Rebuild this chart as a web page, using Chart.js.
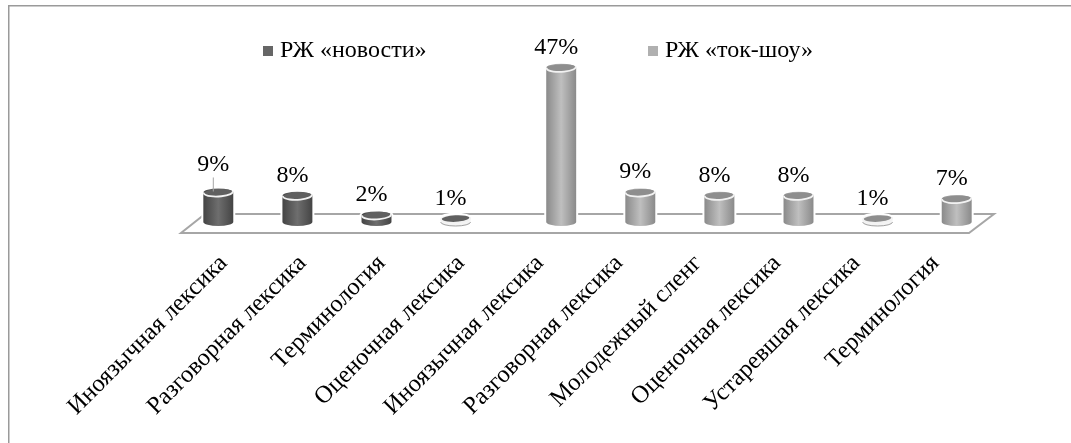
<!DOCTYPE html>
<html>
<head>
<meta charset="utf-8">
<style>
html, body { margin: 0; padding: 0; background: #fff; }
#wrap { width: 1071px; height: 443px; }
</style>
<script src="https://cdn.jsdelivr.net/npm/chart.js@4"></script>
</head>
<body>
<div id="wrap"><canvas id="grafico"></canvas></div>
<script>
var categorias = ['Иноязычная лексика', 'Разговорная лексика', 'Терминология', 'Оценочная лексика',
    'Иноязычная лексика', 'Разговорная лексика', 'Молодежный сленг', 'Оценочная лексика',
    'Устаревшая лексика', 'Терминология'];
var novosti = [9, 8, 2, 1, null, null, null, null, null, null];
var tokShou = [null, null, null, null, 47, 9, 8, 8, 1, 7];
var nomeNovosti = 'РЖ «новости»';
var nomeTokShou = 'РЖ «ток-шоу»';

var fonte = '"Liberation Serif", "Times New Roman", serif';
var escuro = { meio: '#6e6e6e', borda: '#444444', topo: '#606060', legenda: '#666666' };
var claro = { meio: '#bfbfbf', borda: '#8a8a8a', topo: '#8e8e8e', legenda: '#b0b0b0' };

function desenhaCilindro(ctx, b, cor) {
    var rx = b.width / 2, ry = 4;
    var esq = b.x - rx, dir = b.x + rx;
    var baixo = b.base - b.y < 5;
    function corpo() {
        ctx.beginPath();
        ctx.moveTo(esq, b.y);
        ctx.lineTo(esq, b.base);
        ctx.ellipse(b.x, b.base, rx, ry, 0, Math.PI, 0, true);
        ctx.lineTo(dir, b.y);
        ctx.ellipse(b.x, b.y, rx, ry, 0, 0, Math.PI, true);
        ctx.closePath();
    }
    // halo branco que corta a linha do piso
    corpo();
    ctx.lineWidth = 4;
    ctx.strokeStyle = '#fff';
    ctx.stroke();
    var grad = ctx.createLinearGradient(esq, 0, dir, 0);
    grad.addColorStop(0, cor.borda);
    grad.addColorStop(0.5, cor.meio);
    grad.addColorStop(1, cor.borda);
    corpo();
    // barra de 1%: so um disco com crescente claro embaixo
    ctx.fillStyle = baixo ? '#f4f4f4' : grad;
    ctx.fill();
    if (baixo) {
        ctx.lineWidth = 0.8;
        ctx.strokeStyle = '#8a8a8a';
        ctx.beginPath();
        ctx.ellipse(b.x, b.base, rx, ry, 0, 0, Math.PI);
        ctx.stroke();
    }
    ctx.beginPath();
    ctx.ellipse(b.x, b.y, rx - 1, ry - 0.5, -0.05, 0, Math.PI * 2);
    ctx.fillStyle = cor.topo;
    ctx.fill();
    ctx.beginPath();
    ctx.ellipse(b.x, b.y, rx - 0.5, ry, -0.05, -0.2, Math.PI + 0.2);
    ctx.lineWidth = 1.8;
    ctx.strokeStyle = '#f2f2f2';
    ctx.stroke();
}

var cilindros = {
    id: 'cilindros',
    beforeDraw: function (chart) {
        var ctx = chart.ctx;
        ctx.save();
        ctx.fillStyle = '#fff';
        ctx.fillRect(0, 0, chart.width, chart.height);
        // moldura: so topo e lado esquerdo aparecem
        ctx.strokeStyle = '#9a9a9a';
        ctx.lineWidth = 1.5;
        ctx.beginPath();
        ctx.moveTo(8.75, chart.height);
        ctx.lineTo(8.75, 5.75);
        ctx.lineTo(chart.width, 5.75);
        ctx.stroke();
        ctx.restore();
    },
    beforeDatasetsDraw: function (chart) {
        // piso em perspectiva
        var ctx = chart.ctx, a = chart.chartArea, base = a.bottom;
        ctx.save();
        ctx.beginPath();
        ctx.moveTo(a.left + 13, base - 8);
        ctx.lineTo(a.right + 11, base - 8);
        ctx.lineTo(a.right - 14, base + 11);
        ctx.lineTo(a.left - 11, base + 11);
        ctx.closePath();
        ctx.lineWidth = 2;
        ctx.strokeStyle = '#a6a6a6';
        ctx.stroke();
        ctx.restore();
    },
    afterDatasetsDraw: function (chart) {
        var ctx = chart.ctx;
        ctx.save();
        [escuro, claro].forEach(function (cor, i) {
            chart.getDatasetMeta(i).data.forEach(function (b, k) {
                var v = chart.data.datasets[i].data[k];
                if (v === null) return;
                desenhaCilindro(ctx, b, cor);
            });
        });
        // linha de chamada do primeiro rotulo
        var p = chart.getDatasetMeta(0).data[0];
        ctx.beginPath();
        ctx.moveTo(p.x - 5, p.y - 15);
        ctx.lineTo(p.x - 5, p.y - 1);
        ctx.lineWidth = 1;
        ctx.strokeStyle = '#a6a6a6';
        ctx.stroke();
        // rotulos
        ctx.font = '24px ' + fonte;
        ctx.fillStyle = '#000';
        ctx.textAlign = 'center';
        ctx.textBaseline = 'alphabetic';
        [0, 1].forEach(function (i) {
            chart.getDatasetMeta(i).data.forEach(function (b, k) {
                var v = chart.data.datasets[i].data[k];
                if (v === null) return;
                var subida = (i === 0 && k === 0) ? 21 : 14;
                ctx.fillText(v + '%', b.x - 5, b.y - subida);
            });
        });
        // legenda
        ctx.textAlign = 'left';
        ctx.textBaseline = 'middle';
        ctx.fillStyle = escuro.legenda;
        ctx.fillRect(263, 46, 10, 10);
        ctx.fillStyle = claro.legenda;
        ctx.fillRect(648, 46, 10, 10);
        ctx.fillStyle = '#000';
        ctx.fillText(nomeNovosti, 280, 51);
        ctx.fillText(nomeTokShou, 665, 51);
        ctx.restore();
    }
};

var grafico = new Chart(document.getElementById('grafico').getContext('2d'), {
    type: 'bar',
    plugins: [cilindros],
    data: {
        labels: categorias,
        datasets: [
            { label: nomeNovosti, data: novosti, backgroundColor: escuro.legenda, barPercentage: 1.13, categoryPercentage: 0.67 },
            { label: nomeTokShou, data: tokShou, backgroundColor: claro.legenda, barPercentage: 1.13, categoryPercentage: 0.67 }
        ]
    },
    options: {
        responsive: true,
        maintainAspectRatio: false,
        animation: false,
        layout: { padding: { left: 192, right: 88, top: 58, bottom: 0 } },
        plugins: { legend: { display: false }, tooltip: { enabled: false } },
        scales: {
            x: {
                grid: { display: false },
                border: { display: false },
                afterFit: function (eixo) { eixo.height = 221; },
                ticks: {
                    color: '#000',
                    font: { family: fonte, size: 24.5 },
                    minRotation: 45,
                    maxRotation: 45,
                    autoSkip: false,
                    padding: 19,
                    labelOffset: -8
                }
            },
            y: { display: false, min: 0, max: 50 }
        }
    }
});
</script>
</body>
</html>
